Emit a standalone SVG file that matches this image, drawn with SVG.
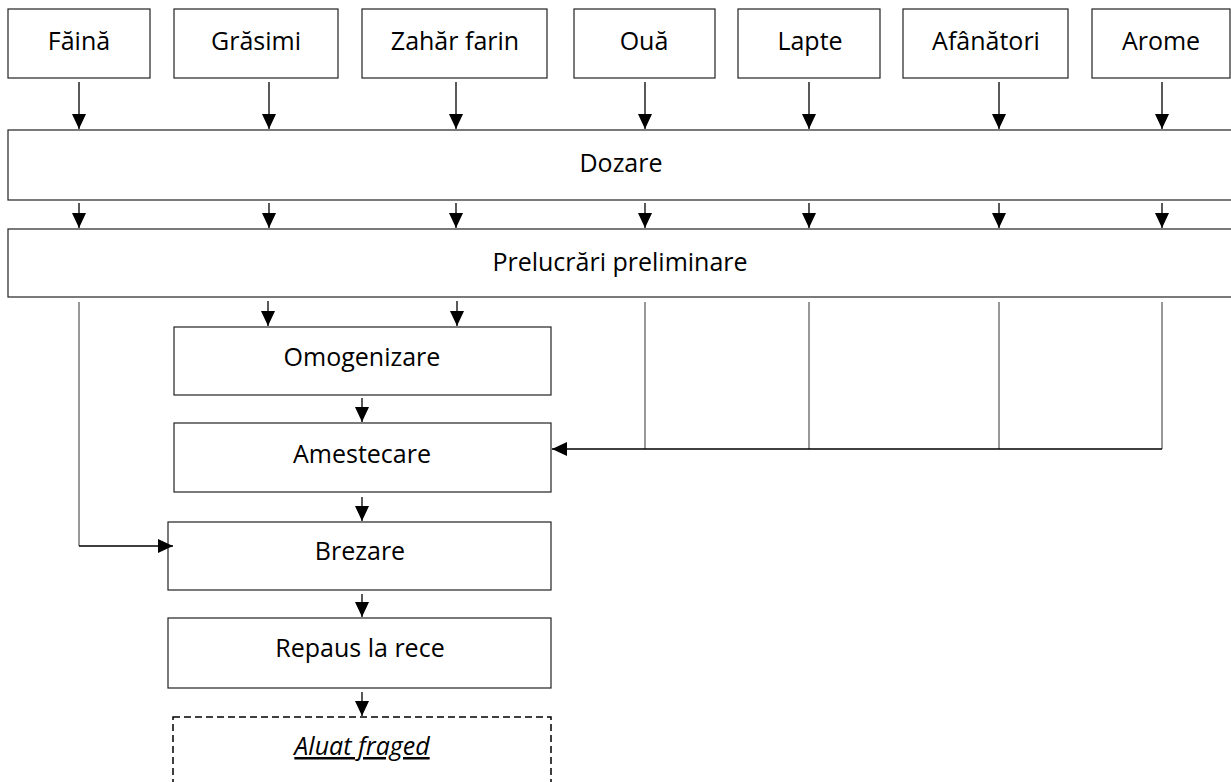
<svg xmlns="http://www.w3.org/2000/svg" width="1231" height="782" viewBox="0 0 1231 782">
<style>
.box{fill:#fff;stroke:#222;stroke-width:1.2}
.dash{fill:#fff;stroke:#000;stroke-width:1.5;stroke-dasharray:7,4}
.t{font-family:"Open Sans","Liberation Sans",sans-serif;font-size:25px;fill:#000;text-anchor:middle}
.ln{fill:none;stroke:#000;stroke-width:1.3}
.ln2{fill:none;stroke:#333;stroke-width:1}
</style>
<defs>
<marker id="ah" markerUnits="userSpaceOnUse" markerWidth="15" markerHeight="14" refX="15" refY="7" orient="auto">
<path d="M0,0 L15,7 L0,14 z" fill="#000"/>
</marker>
</defs>
<rect width="1231" height="782" fill="#fff"/>
<g id="faina"><rect class="box" x="8" y="9" width="142" height="69"/><text class="t" x="79" y="50">Făină</text></g>
<g id="grasimi"><rect class="box" x="174" y="9" width="164" height="69"/><text class="t" x="256" y="50">Grăsimi</text></g>
<g id="zahar"><rect class="box" x="362" y="9" width="185" height="69"/><text class="t" x="455" y="50">Zahăr farin</text></g>
<g id="oua"><rect class="box" x="574" y="9" width="141" height="69"/><text class="t" x="644" y="50">Ouă</text></g>
<g id="lapte"><rect class="box" x="738" y="9" width="142" height="69"/><text class="t" x="810" y="50">Lapte</text></g>
<g id="afanatori"><rect class="box" x="903" y="9" width="165" height="69"/><text class="t" x="986" y="50">Afânători</text></g>
<g id="arome"><rect class="box" x="1092" y="9" width="138" height="69"/><text class="t" x="1161" y="50">Arome</text></g>
<g id="dozare"><rect class="box" x="8" y="130" width="1240" height="70"/><text class="t" x="621" y="172">Dozare</text></g>
<g id="prelucrari"><rect class="box" x="8" y="229" width="1240" height="68"/><text class="t" x="620" y="271">Prelucrări preliminare</text></g>
<g id="omogenizare"><rect class="box" x="174" y="327" width="377" height="68"/><text class="t" x="362" y="366">Omogenizare</text></g>
<g id="amestecare"><rect class="box" x="174" y="423" width="377" height="69"/><text class="t" x="362" y="463">Amestecare</text></g>
<g id="brezare"><rect class="box" x="168" y="522" width="383" height="68"/><text class="t" x="360" y="560">Brezare</text></g>
<g id="repaus"><rect class="box" x="168" y="618" width="383" height="70"/><text class="t" x="360" y="657">Repaus la rece</text></g>
<g id="aluat"><rect class="dash" x="173" y="717" width="378" height="80"/><text class="t" x="362" y="755" font-style="italic" text-decoration="underline">Aluat fraged</text></g>
<g id="connectors">
<line class="ln" x1="79" y1="82" x2="79" y2="129" marker-end="url(#ah)"/>
<line class="ln" x1="269" y1="82" x2="269" y2="129" marker-end="url(#ah)"/>
<line class="ln" x1="456" y1="82" x2="456" y2="129" marker-end="url(#ah)"/>
<line class="ln" x1="645" y1="82" x2="645" y2="129" marker-end="url(#ah)"/>
<line class="ln" x1="809" y1="82" x2="809" y2="129" marker-end="url(#ah)"/>
<line class="ln" x1="999" y1="82" x2="999" y2="129" marker-end="url(#ah)"/>
<line class="ln" x1="1162" y1="82" x2="1162" y2="129" marker-end="url(#ah)"/>
<line class="ln" x1="79" y1="203" x2="79" y2="228" marker-end="url(#ah)"/>
<line class="ln" x1="269" y1="203" x2="269" y2="228" marker-end="url(#ah)"/>
<line class="ln" x1="456" y1="203" x2="456" y2="228" marker-end="url(#ah)"/>
<line class="ln" x1="645" y1="203" x2="645" y2="228" marker-end="url(#ah)"/>
<line class="ln" x1="809" y1="203" x2="809" y2="228" marker-end="url(#ah)"/>
<line class="ln" x1="999" y1="203" x2="999" y2="228" marker-end="url(#ah)"/>
<line class="ln" x1="1162" y1="203" x2="1162" y2="228" marker-end="url(#ah)"/>
<line class="ln" x1="268" y1="301" x2="268" y2="326" marker-end="url(#ah)"/>
<line class="ln" x1="457" y1="301" x2="457" y2="326" marker-end="url(#ah)"/>
<line class="ln" x1="362" y1="398" x2="362" y2="422" marker-end="url(#ah)"/>
<line class="ln" x1="362" y1="497" x2="362" y2="521" marker-end="url(#ah)"/>
<line class="ln" x1="362" y1="594" x2="362" y2="617" marker-end="url(#ah)"/>
<line class="ln" x1="362" y1="692" x2="362" y2="716" marker-end="url(#ah)"/>
<polyline class="ln2" points="79,302 79,546"/>
<line class="ln" x1="79" y1="546" x2="173" y2="546" marker-end="url(#ah)"/>
<line class="ln2" x1="645" y1="302" x2="645" y2="449"/>
<line class="ln2" x1="809" y1="302" x2="809" y2="449"/>
<line class="ln2" x1="999" y1="302" x2="999" y2="449"/>
<line class="ln2" x1="1162" y1="302" x2="1162" y2="449"/>
<line class="ln" x1="1162" y1="449" x2="552" y2="449" stroke-width="1.8" marker-end="url(#ah)"/>
</g>
</svg>
